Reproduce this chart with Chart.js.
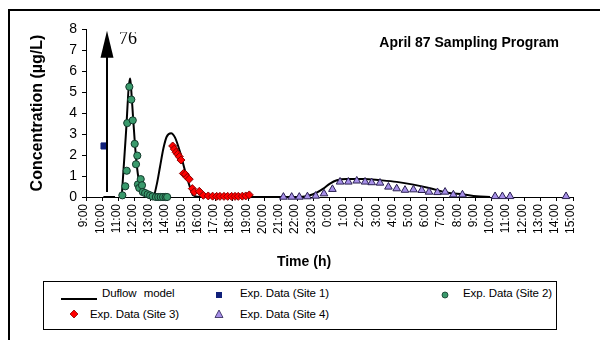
<!DOCTYPE html>
<html lang="en">
<head>
<meta charset="UTF-8">
<title>April 87 Sampling Program</title>
<script src="https://cdn.jsdelivr.net/npm/chart.js"></script>
<style>
  html, body { margin: 0; padding: 0; background: #fff; }
  body { width: 600px; height: 340px; position: relative; overflow: hidden; font-family: "Liberation Sans", Arial, sans-serif; }
  #frame { position: absolute; left: 8px; top: 9px; width: 620px; height: 360px; border-left: 2px solid #000; border-top: 2px solid #000; }
  #concChart { position: absolute; left: 0; top: 0; }
  #legend { position: absolute; left: 43px; top: 281px; width: 512px; height: 47px; border: 1px solid #000; background: #fff; font-size: 11.5px; color: #000; }
  #legend .mk { position: absolute; }
  #legend .lt { position: absolute; white-space: nowrap; line-height: 14px; letter-spacing: -0.1px; }
  #legend .lt.wide { word-spacing: 4px; }
</style>
</head>
<body>
<div id="frame"></div>
<canvas id="concChart" width="600" height="340"></canvas>
<div id="legend"></div>

<script>
  // time in hours from 9:00 on day one (24 = midnight), concentration in µg/L
  const timeLabels = ['9:00','10:00','11:00','12:00','13:00','14:00','15:00','16:00','17:00','18:00',
    '19:00','20:00','21:00','22:00','23:00','0:00','1:00','2:00','3:00','4:00','5:00','6:00',
    '7:00','8:00','9:00','10:00','11:00','12:00','13:00','14:00','15:00'];

  const modelTime = [10.07, 10.79, 10.95, 11.2, 11.45, 11.71, 11.75, 11.91, 12.06, 12.22, 12.39, 12.63, 12.94,
    13.13, 13.36, 13.56, 13.77, 13.97, 14.24, 14.48, 14.79, 15.09, 15.4, 15.6, 16.0, 18.0, 20.0,
    22.19, 22.8, 23.21, 23.62, 24.03, 24.45, 25.06, 26.09, 27.11, 28.14, 29.17, 30.2, 31.22, 32.25, 33.07, 33.89];
  const modelConc = [0, 0, null, 0, 2.9, 5.64, 5.44, 3.68, 2.08, 0.96, 0.56, 0.24, 0.08,
    0, 0.6, 1.44, 2.32, 2.87, 3.04, 2.84, 2.15, 1.28, 0.48, 0.08, 0, 0, 0,
    0, 0.08, 0.21, 0.4, 0.64, 0.8, 0.86, 0.86, 0.8, 0.72, 0.59, 0.42, 0.21, 0.12, 0.03, 0];

  const site1Time = [10.11];
  const site1Conc = [2.43];

  const site2Time = [11.24, 11.42, 11.51, 11.54, 11.67, 11.79, 11.88, 12.0, 12.08, 12.16, 12.2, 12.28, 12.37,
    12.45, 12.5, 12.64, 12.8, 12.95, 13.1, 13.3, 13.45, 13.6, 13.75, 13.9, 14.0];
  const site2Conc = [0.08, 0.51, 1.25, 3.52, 5.25, 4.64, 3.65, 2.53, 1.56, 1.97, 0.6, 0.43, 0.85,
    0.56, 0.24, 0.19, 0.13, 0.08, 0.03, 0, 0, 0, 0, 0, 0];

  const site3Time = [14.34, 14.44, 14.55, 14.65, 14.75, 14.85, 15.0, 15.12, 15.24, 15.36, 15.55, 15.67, 15.98,
    16.23, 16.53, 16.8, 17.05, 17.25, 17.5, 17.73, 17.97, 18.18, 18.38, 18.63, 18.84, 19.06];
  const site3Conc = [2.43, 2.28, 2.13, 2.04, 1.92, 1.76, 1.12, 1.08, 0.93, 0.85, 0.4, 0.24, 0.27,
    0.08, 0.05, 0.04, 0.03, 0.03, 0.03, 0.03, 0.03, 0.03, 0.03, 0.04, 0.05, 0.1];

  const site4Time = [21.16, 21.67, 22.14, 22.64, 23.15, 23.66, 24.18, 24.65, 25.16, 25.68, 26.19, 26.6, 27.11,
    27.63, 28.14, 28.65, 29.17, 29.68, 30.13, 30.65, 31.12, 31.63, 32.19, 34.2, 34.65, 35.12, 38.57];
  const site4Conc = [0, 0, 0, 0.02, 0.05, 0.16, 0.37, 0.72, 0.72, 0.77, 0.72, 0.69, 0.67,
    0.48, 0.4, 0.33, 0.35, 0.32, 0.24, 0.22, 0.24, 0.11, 0.11, 0.03, 0.03, 0.03, 0.03];

  // off-scale site 1 reading, shown as an arrow with its value
  const arrowTime = 10.27;
  const arrowFrom = 0.24;
  const arrowTo = 7.92;
  const arrowValue = '76';

  const seriesNames = ['Duflow model', 'Exp. Data (Site 1)', 'Exp. Data (Site 2)', 'Exp. Data (Site 3)', 'Exp. Data (Site 4)'];

  function pts(xs, ys) {
    return xs.map((x, i) => ({ x: x, y: ys[i] }));
  }

  Chart.defaults.font.family = '"Liberation Sans", Arial, sans-serif';
  Chart.defaults.color = '#000';

  const notes = {
    id: 'notes',
    afterDatasetsDraw(chart) {
      const { ctx, chartArea, scales: { x, y } } = chart;
      const ax = Math.round(x.getPixelForValue(arrowTime));
      const yTop = y.getPixelForValue(arrowTo);
      const yBot = y.getPixelForValue(arrowFrom);
      ctx.save();
      ctx.strokeStyle = '#000';
      ctx.fillStyle = '#000';
      ctx.lineWidth = 2;
      ctx.beginPath();
      ctx.moveTo(ax, yBot);
      ctx.lineTo(ax, yTop + 20);
      ctx.stroke();
      ctx.beginPath();
      ctx.moveTo(ax, yTop);
      ctx.lineTo(ax - 6.5, yTop + 27);
      ctx.lineTo(ax + 6.5, yTop + 27);
      ctx.closePath();
      ctx.fill();

      // value label, top slightly cut like the original
      ctx.save();
      ctx.beginPath();
      ctx.rect(ax, yTop + 1.5, 40, 20);
      ctx.clip();
      ctx.font = '18px "Liberation Serif", "Times New Roman", serif';
      ctx.textAlign = 'left';
      ctx.textBaseline = 'alphabetic';
      ctx.fillText(arrowValue, ax + 12, yTop + 13);
      ctx.restore();

      ctx.font = 'bold 14px "Liberation Sans", Arial, sans-serif';
      ctx.textAlign = 'right';
      ctx.textBaseline = 'middle';
      ctx.fillText('April 87 Sampling Program', chartArea.right - 14, chartArea.top + 14);

      ctx.textAlign = 'center';
      ctx.fillText('Time (h)', 304, 262);
      ctx.restore();
    }
  };

  const ctx = document.getElementById('concChart').getContext('2d');

  new Chart(ctx, {
    type: 'scatter',
    data: {
      datasets: [
        {
          label: seriesNames[0],
          data: pts(modelTime, modelConc),
          showLine: true,
          borderColor: '#000',
          borderWidth: 2,
          pointRadius: 0,
          cubicInterpolationMode: 'monotone',
          spanGaps: false,
          clip: false,
          order: 10
        },
        {
          label: seriesNames[1],
          data: pts(site1Time, site1Conc),
          pointStyle: 'rect',
          pointRadius: 4.3,
          backgroundColor: '#10207a',
          borderColor: '#10207a',
          borderWidth: 1,
          clip: false,
          order: 1
        },
        {
          label: seriesNames[2],
          data: pts(site2Time, site2Conc),
          pointStyle: 'circle',
          pointRadius: 3.6,
          backgroundColor: '#3a9a6c',
          borderColor: '#12372a',
          borderWidth: 1,
          clip: false,
          order: 2
        },
        {
          label: seriesNames[3],
          data: pts(site3Time, site3Conc),
          pointStyle: 'rectRot',
          pointRadius: 4,
          backgroundColor: '#ff0000',
          borderColor: '#8a0000',
          borderWidth: 1,
          clip: false,
          order: 3
        },
        {
          label: seriesNames[4],
          data: pts(site4Time, site4Conc),
          pointStyle: 'triangle',
          pointRadius: 4.4,
          backgroundColor: '#a68fe8',
          borderColor: '#2a2050',
          borderWidth: 1,
          clip: false,
          order: 4
        }
      ]
    },
    options: {
      responsive: false,
      animation: false,
      layout: { padding: { top: 29, right: 27, bottom: 68, left: 0 } },
      plugins: {
        legend: { display: false },
        tooltip: { enabled: false }
      },
      scales: {
        x: {
          type: 'linear',
          min: 9,
          max: 39,
          afterFit: s => { s.height = 75; },
          ticks: {
            stepSize: 1,
            autoSkip: false,
            minRotation: 90,
            maxRotation: 90,
            padding: 3,
            labelOffset: -2,
            font: { size: 12 },
            callback: (v, i) => timeLabels[i]
          },
          grid: { drawOnChartArea: false, drawTicks: true, tickLength: 4, color: '#000' },
          border: { color: '#000', width: 1 }
        },
        y: {
          min: 0,
          max: 8,
          afterFit: s => { s.width = 86; },
          ticks: { stepSize: 1, padding: 5, font: { size: 14 } },
          grid: { drawOnChartArea: false, drawTicks: true, tickLength: 4, color: '#000' },
          border: { color: '#000', width: 1 },
          title: {
            display: true,
            text: 'Concentration (µg/L)',
            font: { size: 16, weight: 'bold' },
            padding: { top: 28, bottom: 0 }
          }
        }
      }
    },
    plugins: [notes]
  });

  // legend laid out in fixed columns like the original
  const legendSlots = [
    { mark: 'line', mx: 17, tx: 58, row: 0 },
    { mark: 'rect', mx: 175, tx: 196, row: 0 },
    { mark: 'circle', mx: 401, tx: 419, row: 0 },
    { mark: 'diamond', mx: 30, tx: 46, row: 1 },
    { mark: 'triangle', mx: 175, tx: 196, row: 1 }
  ];
  const rowY = [11, 32];
  const marks = {
    line: '<svg width="36" height="4"><line x1="0" y1="2" x2="36" y2="2" stroke="#000" stroke-width="2"/></svg>',
    rect: '<svg width="8" height="8"><rect x="1" y="1" width="6" height="6" fill="#10207a"/></svg>',
    circle: '<svg width="8" height="8"><circle cx="4" cy="4" r="3" fill="#3a9a6c" stroke="#12372a" stroke-width="0.8"/></svg>',
    diamond: '<svg width="10" height="10"><polygon points="5,1 9,5 5,9 1,5" fill="#ff0000" stroke="#8a0000" stroke-width="0.8"/></svg>',
    triangle: '<svg width="10" height="10"><polygon points="5,1 9,8.5 1,8.5" fill="#a68fe8" stroke="#2a2050" stroke-width="0.8"/></svg>'
  };
  const sizes = { line: [36, 4], rect: [8, 8], circle: [8, 8], diamond: [10, 10], triangle: [10, 10] };
  const legend = document.getElementById('legend');
  legendSlots.forEach((s, i) => {
    const cy = rowY[s.row];
    const [w, h] = sizes[s.mark];
    const left = s.mark === 'line' ? s.mx : s.mx - w / 2;
    const cls = s.mark === 'line' ? 'lt wide' : 'lt';
    legend.insertAdjacentHTML('beforeend',
      '<div class="mk" style="left:' + left + 'px;top:' + (cy - h / 2) + 'px;width:' + w + 'px;height:' + h + 'px">' + marks[s.mark] + '</div>' +
      '<span class="' + cls + '" style="left:' + s.tx + 'px;top:' + (cy - 7) + 'px">' + seriesNames[i] + '</span>');
  });
</script>
</body>
</html>
